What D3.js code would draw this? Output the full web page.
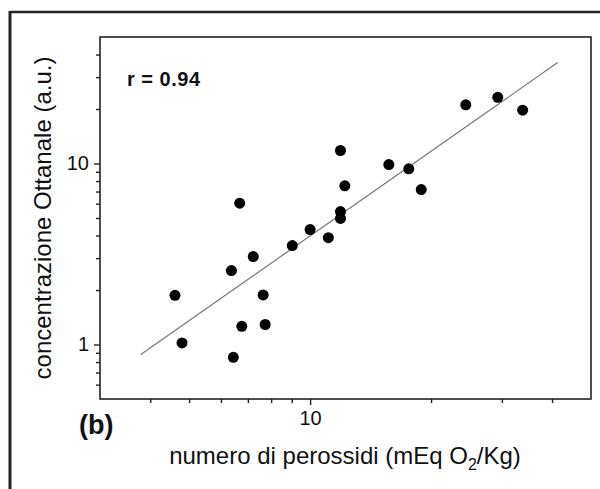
<!DOCTYPE html>
<html>
<head>
<meta charset="utf-8">
<script src="https://cdnjs.cloudflare.com/ajax/libs/d3/7.8.5/d3.min.js"></script>
<style>
  body { margin: 0; background: #fff; }
  svg { display: block; font-family: "Liberation Sans", Arial, sans-serif; }
  .axis path { display: none; }
  .axis line { stroke: #222; stroke-width: 1.4; }
  .axis text { font-family: "Liberation Sans", Arial, sans-serif; font-size: 20px; fill: #111; }
</style>
</head>
<body>
<svg width="600" height="489"></svg>
<script>
// peroxide number (mEq O2/Kg) vs octanal concentration (a.u.)
var peroxValues = [4.61, 4.80, 6.37, 6.44, 6.68, 6.76, 7.22, 7.64, 7.73, 9.03, 10.0,
                   11.1, 11.9, 11.9, 11.9, 12.2, 15.7, 17.6, 18.9, 24.4, 29.3, 33.8];
var octanalValues = [1.87, 1.02, 2.56, 0.85, 6.04, 1.26, 3.06, 1.88, 1.29, 3.52, 4.32,
                     3.89, 11.8, 5.43, 4.97, 7.53, 9.87, 9.35, 7.18, 21.1, 23.2, 19.7];
// regression line ends
var fitX = [3.79, 41.3];
var fitY = [0.881, 36.1];

var xMajorTicks = [10];
var xMinorTicks = [4, 5, 6, 7, 8, 9, 20, 30, 40];
var yMajorTicks = [1, 10];
var yMinorTicks = [0.6, 0.7, 0.8, 0.9, 2, 3, 4, 5, 6, 7, 8, 9, 20, 30, 40];

var svg = d3.select("svg"),
    margin = {top: 37, right: 9, bottom: 90, left: 100},
    width = 600 - margin.left - margin.right,
    height = 489 - margin.top - margin.bottom;

// outer panel frame (only left and top edges visible)
svg.append("line").attr("x1", 10).attr("y1", 12).attr("x2", 600).attr("y2", 12)
    .attr("stroke", "#222").attr("stroke-width", 2.5);
svg.append("line").attr("x1", 10).attr("y1", 11).attr("x2", 10).attr("y2", 489)
    .attr("stroke", "#222").attr("stroke-width", 3);

var g = svg.append("g").attr("transform", "translate(" + margin.left + "," + margin.top + ")");

var x = d3.scaleLog().domain([3, 50]).range([0, width]),
    y = d3.scaleLog().domain([0.5, 50]).range([height, 0]);

g.append("g")
    .attr("class", "axis")
    .attr("transform", "translate(0," + height + ")")
    .call(d3.axisBottom(x).tickValues(xMinorTicks).tickSize(4).tickFormat(""));

g.append("g")
    .attr("class", "axis")
    .attr("transform", "translate(0," + height + ")")
    .call(d3.axisBottom(x).tickValues(xMajorTicks).tickSize(6).tickPadding(6).tickFormat(d3.format("d")));

g.append("g")
    .attr("class", "axis")
    .call(d3.axisLeft(y).tickValues(yMinorTicks).tickSize(4).tickFormat(""));

g.append("g")
    .attr("class", "axis")
    .call(d3.axisLeft(y).tickValues(yMajorTicks).tickSize(6).tickPadding(5).tickFormat(d3.format("d")));

// plot box
g.append("rect")
    .attr("width", width)
    .attr("height", height)
    .attr("fill", "none")
    .attr("stroke", "#222")
    .attr("stroke-width", 1.6);

// fitted line
var line = d3.line()
    .x(function(d) { return x(d[0]); })
    .y(function(d) { return y(d[1]); });

g.append("path")
    .datum(d3.zip(fitX, fitY))
    .attr("d", line)
    .attr("fill", "none")
    .attr("stroke", "#777")
    .attr("stroke-width", 1.2);

g.selectAll(".dot")
    .data(d3.zip(peroxValues, octanalValues))
    .enter().append("circle")
      .attr("class", "dot")
      .attr("cx", function(d) { return x(d[0]); })
      .attr("cy", function(d) { return y(d[1]); })
      .attr("r", 5.5)
      .attr("fill", "#000");

svg.append("text")
    .attr("x", 127)
    .attr("y", 86)
    .style("font-size", "20px")
    .style("font-weight", "bold")
    .style("letter-spacing", "0.5px")
    .attr("fill", "#111")
    .text("r = 0.94");

svg.append("text")
    .attr("x", 79)
    .attr("y", 434)
    .style("font-size", "27px")
    .style("font-weight", "bold")
    .attr("fill", "#111")
    .text("(b)");

var xt = svg.append("text")
    .attr("x", 345)
    .attr("y", 464)
    .attr("text-anchor", "middle")
    .style("font-size", "24px")
    .attr("fill", "#111");
xt.append("tspan").text("numero di perossidi (mEq O");
xt.append("tspan").attr("dy", 6).style("font-size", "16px").text("2");
xt.append("tspan").attr("dy", -6).text("/Kg)");

svg.append("text")
    .attr("transform", "translate(51,218) rotate(-90)")
    .attr("text-anchor", "middle")
    .style("font-size", "24px")
    .attr("fill", "#111")
    .text("concentrazione Ottanale (a.u.)");
</script>
</body>
</html>
